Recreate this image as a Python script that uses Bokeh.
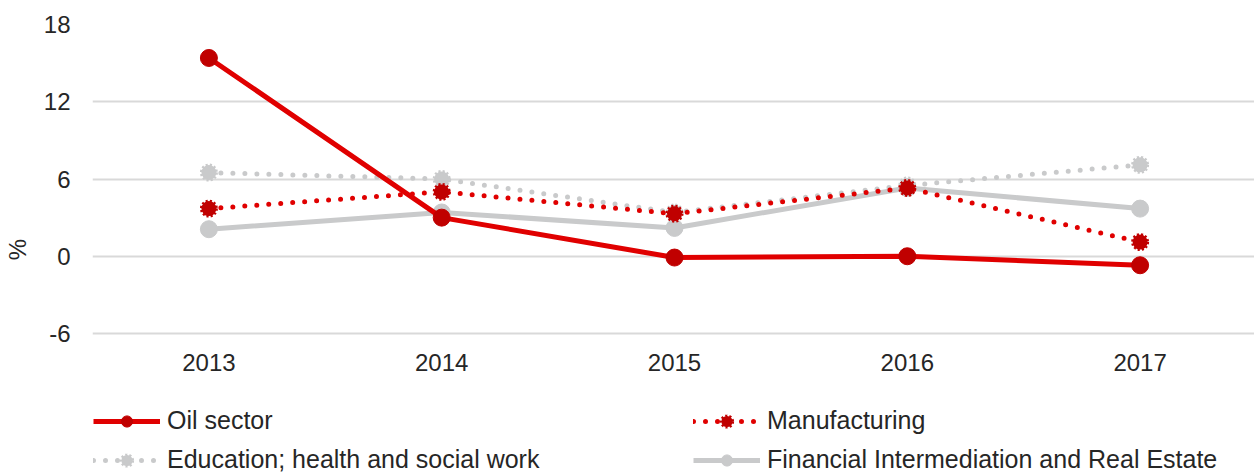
from bokeh.plotting import figure
from bokeh.models import FactorRange, Range1d, FixedTicker, Legend, LegendItem
from bokeh.embed import file_html
from bokeh.resources import INLINE

years = ["2013", "2014", "2015", "2016", "2017"]
oil = [15.4, 3.0, -0.1, 0.0, -0.7]
manufacturing = [3.7, 5.0, 3.3, 5.3, 1.1]
education = [6.5, 6.0, 3.4, 5.5, 7.1]
financial = [2.1, 3.4, 2.2, 5.3, 3.7]
y_ticks = [-6, 0, 6, 12, 18]

FONT = "Liberation Sans"
TXT = "#262626"
RED = "#E00000"
DRED = "#C00000"
GREY = "#C9CACB"

# frame covers plot + legend area; the value axis spans -6..18 over 309 px
FRAME_H = 450
PX_PER_UNIT = 309 / 24
y_bottom = 18 - FRAME_H / PX_PER_UNIT

p = figure(x_range=FactorRange(*years, range_padding=0),
           y_range=Range1d(y_bottom, 18), output_backend="svg", toolbar_location=None,
           min_border_left=90, min_border_right=0, min_border_top=24, min_border_bottom=0)
p.frame_width = 1164
p.frame_height = FRAME_H
p.outline_line_color = None
p.xgrid.grid_line_color = None
p.ygrid.grid_line_color = "#D9D9D9"
p.ygrid.grid_line_width = 2
p.yaxis.ticker = FixedTicker(ticks=y_ticks)
p.yaxis.major_label_overrides = {t: str(t) for t in y_ticks}
p.yaxis.bounds = (y_ticks[0], y_ticks[-1])
p.xaxis.fixed_location = -6
for ax in (p.xaxis[0], p.yaxis[0]):
    ax.axis_line_color = None
    ax.major_tick_line_color = None
    ax.minor_tick_line_color = None
    ax.major_tick_out = 0
    ax.major_tick_in = 0
    ax.major_label_text_font = FONT
    ax.major_label_text_font_size = "24px"
    ax.major_label_text_color = TXT
p.yaxis.major_label_standoff = 22
p.xaxis.major_label_standoff = 20
p.yaxis.axis_label = "%"
p.yaxis.axis_label_text_font = FONT
p.yaxis.axis_label_text_font_size = "24px"
p.yaxis.axis_label_text_font_style = "normal"
p.yaxis.axis_label_text_color = TXT
p.yaxis.axis_label_standoff = 10

def series(vals, color, mcolor, dotted, dotted_marker):
    kw = dict(line_color=color, line_width=5)
    if dotted:
        kw.update(line_dash="0 12", line_cap="round")
    l = p.line(years, vals, **kw)
    if dotted_marker:
        s = p.scatter(years, vals, size=15, fill_color=mcolor, line_color=mcolor,
                      line_width=3, line_dash="2 2")
    else:
        s = p.scatter(years, vals, size=17, fill_color=mcolor, line_color=mcolor)
    return [l, s]

r_edu = series(education, GREY, GREY, True, True)
r_fin = series(financial, GREY, GREY, False, False)
r_man = series(manufacturing, RED, DRED, True, True)
r_oil = series(oil, RED, DRED, False, False)

def style(leg):
    leg.border_line_color = None
    leg.background_fill_alpha = 0
    leg.label_text_font = FONT
    leg.label_text_font_size = "25px"
    leg.label_text_color = TXT
    leg.glyph_width = 67
    leg.glyph_height = 28
    leg.label_height = 28
    leg.label_width = 380
    leg.label_standoff = 7
    leg.spacing = 146
    leg.padding = 0
    leg.margin = 0
    leg.label_text_baseline = "middle"

legA = Legend(items=[
    LegendItem(label="Oil sector", renderers=r_oil),
    LegendItem(label="Manufacturing", renderers=r_man),
], orientation="horizontal", location=(1, 39))
style(legA)
legB = Legend(items=[
    LegendItem(label="Education; health and social work", renderers=r_edu),
    LegendItem(label="Financial Intermediation and Real Estate", renderers=r_fin),
], orientation="horizontal", location=(1, 0))
style(legB)
p.add_layout(legA, "center")
p.add_layout(legB, "center")

open("out.html", "w").write(file_html(p, INLINE))
